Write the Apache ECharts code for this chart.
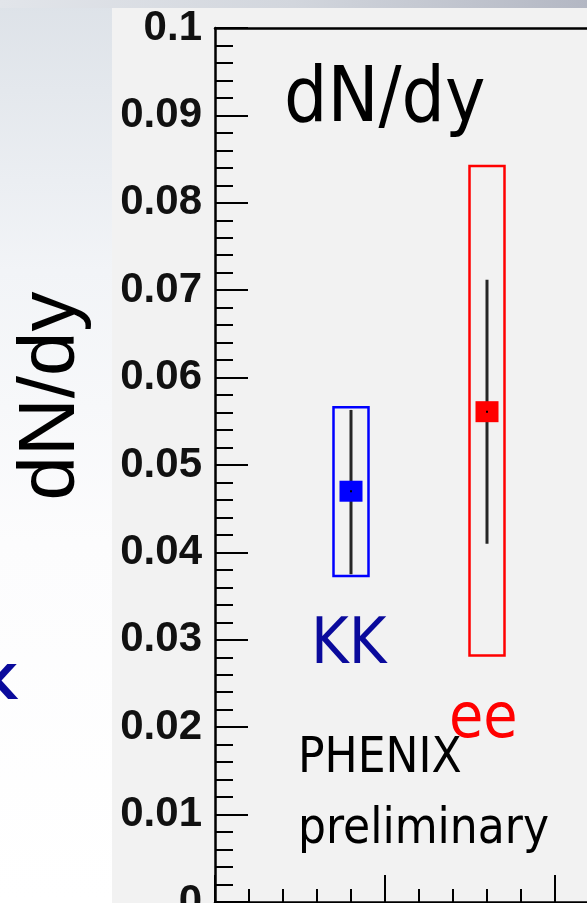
<!DOCTYPE html>
<html>
<head>
<meta charset="utf-8">
<script src="https://cdn.jsdelivr.net/npm/echarts@6/dist/echarts.min.js"></script>
<style>
html,body{margin:0;padding:0;background:#ffffff;overflow:hidden;width:587px;height:903px;}
#chart{width:725px;height:903px;}
</style>
</head>
<body>
<div id="chart"></div>
<script>
// ---- data ----
var categories = ["KK", "ee"];
var xPositions = [0.8, 1.6];
var centralValues = [0.0470, 0.0561];
var statLow = [0.0375, 0.0410];
var statHigh = [0.0563, 0.0712];
var sysLow = [0.0373, 0.0282];
var sysHigh = [0.0566, 0.0842];
var yTickLabels = ["0", "0.01", "0.02", "0.03", "0.04", "0.05", "0.06", "0.07", "0.08", "0.09", "0.1"];
var titleText = "dN/dy";
var yAxisTitle = "dN/dy";
var noteLines = ["PHENIX", "preliminary"];

// ---- styles ----
var seriesColors = ["#0000ff", "#ff0000"];
var labelColors = ["#0a0a9c", "#ff0000"];
var textFont = '"DejaVu Sans Condensed", "DejaVu Sans", sans-serif';

var chart = echarts.init(document.getElementById('chart'), null, {renderer: 'canvas'});

var boxData = categories.map(function (c, i) { return [xPositions[i], sysLow[i], sysHigh[i], i]; });
var statData = categories.map(function (c, i) { return [xPositions[i], statLow[i], statHigh[i], i]; });
var pointData = categories.map(function (c, i) {
  return { value: [xPositions[i], centralValues[i]], itemStyle: { color: seriesColors[i], opacity: 1 } };
});

var option = {
  animation: false,
  backgroundColor: 'transparent',
  graphic: [
    { type: 'rect', z: -100, shape: {x: 0, y: 0, width: 725, height: 903},
      style: { fill: new echarts.graphic.LinearGradient(0, 0, 0, 1, [
        {offset: 0, color: '#dde2e8'}, {offset: 0.3, color: '#f2f4f7'}, {offset: 0.6, color: '#fcfcfd'}, {offset: 1, color: '#ffffff'}]) } },
    { type: 'rect', z: -99, shape: {x: 0, y: 0, width: 587, height: 8},
      style: { fill: new echarts.graphic.LinearGradient(0, 0, 1, 0, [
        {offset: 0, color: '#e2e5ea'}, {offset: 0.5, color: '#d2d6dd'}, {offset: 1, color: '#b3b7c3'}]) } },
    { type: 'rect', z: -98, shape: {x: 112, y: 8, width: 613, height: 895}, style: { fill: '#f2f2f2' } },
    { type: 'text', z: 10, x: 52, y: 396, rotation: Math.PI / 2,
      style: { text: yAxisTitle, font: '80px "Liberation Sans", Arial, sans-serif', fill: '#000', textAlign: 'center', textVerticalAlign: 'middle' } },
    { type: 'text', z: 10, x: 17, y: 687,
      style: { text: 'K', font: 'bold 48px ' + textFont, fill: '#0a0a9c', textAlign: 'right', textVerticalAlign: 'middle' } },
    { type: 'text', z: 10, x: 284, y: 101,
      style: { text: titleText, font: '76px ' + textFont, fill: '#000', textAlign: 'left', textVerticalAlign: 'middle' } },
    { type: 'text', z: 10, x: 311, y: 646,
      style: { text: categories[0], font: '64px ' + textFont, fill: labelColors[0], textAlign: 'left', textVerticalAlign: 'middle' } },
    { type: 'text', z: 10, x: 449, y: 721,
      style: { text: categories[1], font: '62px ' + textFont, fill: labelColors[1], textAlign: 'left', textVerticalAlign: 'middle' } },
    { type: 'text', z: 10, x: 298, y: 759,
      style: { text: noteLines[0], font: '49px ' + textFont, fill: '#000', textAlign: 'left', textVerticalAlign: 'middle' } },
    { type: 'text', z: 10, x: 298, y: 830,
      style: { text: noteLines[1], font: '49px ' + textFont, fill: '#000', textAlign: 'left', textVerticalAlign: 'middle' } }
  ],
  grid: { left: 215, top: 28, right: 0, height: 874, show: false, containLabel: false, outerBoundsMode: 'none' },
  xAxis: [
    { type: 'value', min: 0, max: 3, interval: 1, position: 'bottom',
      axisLine: { show: true, onZero: false, lineStyle: { color: '#000', width: 2.5 } },
      axisTick: { show: true, inside: true, length: 27, lineStyle: { color: '#000', width: 2 } },
      minorTick: { show: true, splitNumber: 5, length: 13, lineStyle: { color: '#000', width: 2 } },
      axisLabel: { show: false }, splitLine: { show: false } },
    { type: 'value', min: 0, max: 3, interval: 1, position: 'top',
      axisLine: { show: true, onZero: false, lineStyle: { color: '#000', width: 2.5 } },
      axisTick: { show: false }, axisLabel: { show: false }, splitLine: { show: false } }
  ],
  yAxis: {
    type: 'value', min: 0, max: 0.1, interval: 0.01, position: 'left',
    axisLine: { show: true, onZero: false, lineStyle: { color: '#000', width: 2.5 } },
    axisTick: { show: true, inside: true, length: 33, lineStyle: { color: '#000', width: 2 } },
    minorTick: { show: true, splitNumber: 5, length: 18, lineStyle: { color: '#000', width: 2 } },
    splitLine: { show: false },
    axisLabel: {
      show: true, margin: 13, color: '#111',
      fontFamily: '"Liberation Sans", Arial, sans-serif', fontWeight: 'bold', fontSize: 42,
      formatter: function (v) { return yTickLabels[Math.round(v * 100)]; }
    }
  },
  series: [
    { type: 'custom', name: 'sys', data: boxData, z: 3,
      renderItem: function (params, api) {
        var top = api.coord([api.value(0), api.value(2)]);
        var bot = api.coord([api.value(0), api.value(1)]);
        var hw = 17.5;
        return { type: 'rect',
          shape: { x: top[0] - hw, y: top[1], width: 2 * hw, height: bot[1] - top[1] },
          style: { fill: 'none', stroke: seriesColors[api.value(3)], lineWidth: 2.5 } };
      } },
    { type: 'custom', name: 'stat', data: statData, z: 4,
      renderItem: function (params, api) {
        var top = api.coord([api.value(0), api.value(2)]);
        var bot = api.coord([api.value(0), api.value(1)]);
        return { type: 'line',
          shape: { x1: top[0], y1: top[1], x2: bot[0], y2: bot[1] },
          style: { stroke: '#262626', lineWidth: 3 } };
      } },
    { type: 'scatter', name: 'value', data: pointData, symbol: 'rect', symbolSize: [23, 21], z: 5,
      itemStyle: { opacity: 1 } },
    { type: 'scatter', name: 'dot', data: pointData.map(function (p) { return p.value; }), symbol: 'rect', symbolSize: 2,
      itemStyle: { color: '#000', opacity: 1 }, z: 6 }
  ]
};
chart.setOption(option);
</script>
</body>
</html>
